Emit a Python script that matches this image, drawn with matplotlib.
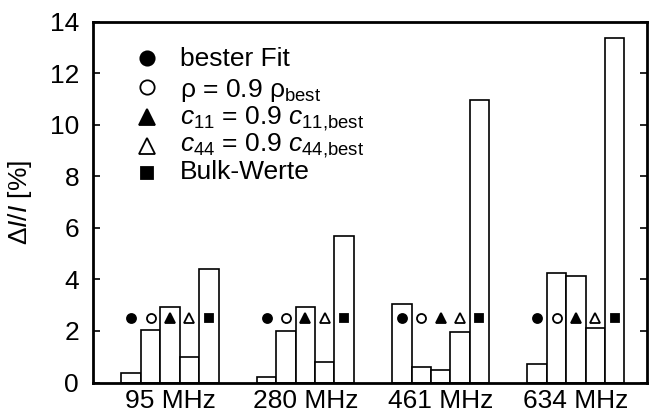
import numpy as np
import matplotlib
matplotlib.use("Agg")
import matplotlib.pyplot as plt

plt.rcParams["font.family"] = ["Liberation Sans", "DejaVu Sans"]
plt.rcParams["mathtext.fontset"] = "custom"
plt.rcParams["mathtext.rm"] = "Liberation Sans"
plt.rcParams["mathtext.it"] = "Liberation Sans:italic"

# data
frequencies = ["95 MHz", "280 MHz", "461 MHz", "634 MHz"]
bester_fit = [0.37, 0.22, 3.05, 0.72]
rho_09 = [2.03, 2.0, 0.6, 4.24]
c11_09 = [2.92, 2.92, 0.48, 4.14]
c44_09 = [1.0, 0.8, 1.94, 2.1]
bulk_werte = [4.4, 5.7, 10.97, 13.37]
marker_level = 2.5

series = [bester_fit, rho_09, c11_09, c44_09, bulk_werte]
labels = [
    "bester Fit",
    "ρ = 0.9 ρ$_\\mathrm{best}$",
    "$c_\\mathrm{11}$ = 0.9 $c_\\mathrm{11{,}best}$",
    "$c_\\mathrm{44}$ = 0.9 $c_\\mathrm{44{,}best}$",
    "Bulk-Werte",
]
markers = [("o", "black"), ("o", "white"), ("^", "black"), ("^", "white"), ("s", "black")]

W, H = 649, 416
fig = plt.figure(figsize=(W / 100, H / 100), dpi=100)
ax = fig.add_axes([93 / W, 1 - 382.5 / H, 554 / W, 361 / H])

x = np.arange(len(frequencies))
w = 0.1434
for i, vals in enumerate(series):
    pos = x + (i - 2) * w
    ax.bar(pos, vals, width=w, color="white", edgecolor="black", linewidth=1.2, zorder=2)
    m, fc = markers[i]
    ax.plot(pos, [marker_level] * len(pos), linestyle="none", marker=m, markersize=6.5 if m != "s" else 6,
            markerfacecolor=fc, markeredgecolor="black", markeredgewidth=1.3, zorder=3)

ax.set_xlim(-0.569, 3.525)
ax.set_ylim(0, 14)
ax.set_yticks(range(0, 15, 2))
ax.set_xticks(x)
ax.set_xticklabels(frequencies, fontsize=19)
ax.tick_params(axis="x", length=0, pad=5)
ax.tick_params(axis="y", direction="in", length=5, width=1.2, labelsize=19, right=True, pad=10)
for s in ax.spines.values():
    s.set_linewidth(2)
ax.set_ylabel("Δ$I$/$I$ [%]", fontsize=19, labelpad=11)

# legend drawn by hand (marker column + text column)
marker_y = [58.3, 86.7, 117, 146, 173.3]
text_base = [66, 96.7, 124, 151.7, 179.3]
for i, lab in enumerate(labels):
    m, fc = markers[i]
    size = {"o": 10.3, "^": 11, "s": 9.2}[m]
    fig.lines.append(plt.Line2D([146.7 / W], [1 - marker_y[i] / H], transform=fig.transFigure,
                                linestyle="none", marker=m, markersize=size, markerfacecolor=fc,
                                markeredgecolor="black", markeredgewidth=1.3))
    fig.text(180 / W, 1 - text_base[i] / H, lab, fontsize=19, va="baseline", ha="left")

fig.savefig("out.png", dpi=100)
